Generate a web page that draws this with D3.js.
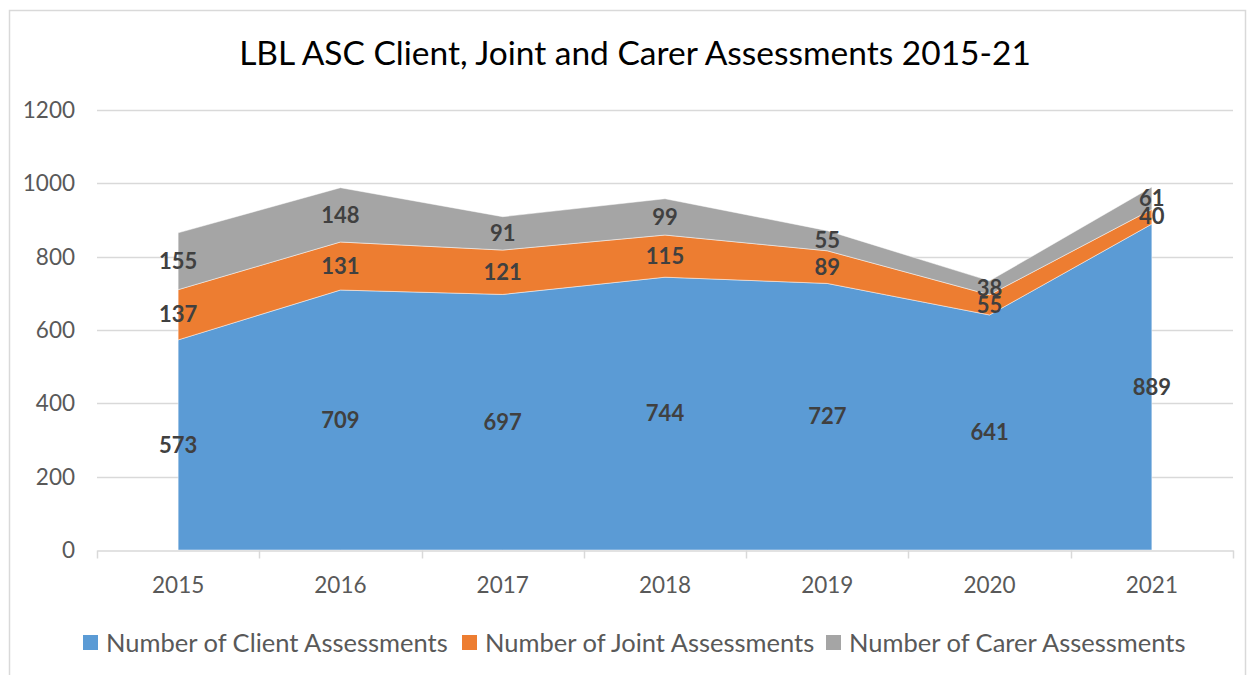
<!DOCTYPE html>
<html>
<head>
<meta charset="utf-8">
<script src="https://cdn.jsdelivr.net/npm/d3@7"></script>
<style>
  body { margin: 0; background: #fff; }
  svg text { font-family: Lato, "Open Sans", sans-serif; }
</style>
</head>
<body>
<div id="chart"></div>
<script>
// chart data
var years = ["2015", "2016", "2017", "2018", "2019", "2020", "2021"];
var clientValues = [573, 709, 697, 744, 727, 641, 889];
var jointValues = [137, 131, 121, 115, 89, 55, 40];
var carerValues = [155, 148, 91, 99, 55, 38, 61];
var yTicks = [0, 200, 400, 600, 800, 1000, 1200];
var seriesNames = ["Number of Client Assessments", "Number of Joint Assessments", "Number of Carer Assessments"];
var seriesColors = ["#5b9bd5", "#ed7d31", "#a5a5a5"];

var width = 1253;
var height = 675;

var plot = { left: 97, right: 1233, top: 110, bottom: 550 };

var svg = d3.select("#chart")
    .append("svg")
    .attr("width", width)
    .attr("height", height);

// chart frame
svg.append("rect")
    .attr("x", 9.5)
    .attr("y", 10.5)
    .attr("width", 1236)
    .attr("height", 680)
    .attr("fill", "#fff")
    .attr("stroke", "#d9d9d9")
    .attr("stroke-width", 1.5);

svg.append("text")
    .attr("x", 635)
    .attr("y", 65)
    .attr("text-anchor", "middle")
    .attr("font-size", 33.5)
    .attr("fill", "#000")
    .text("LBL ASC Client, Joint and Carer Assessments 2015-21");

var x_scale = d3.scaleBand()
    .domain(years)
    .range([plot.left, plot.right]);

var y_scale = d3.scaleLinear()
    .domain([0, 1200])
    .range([plot.bottom, plot.top]);

function xc(year) {
    return x_scale(year) + x_scale.bandwidth() / 2;
}

// gridlines
svg.append("g")
    .selectAll("line")
    .data(yTicks.filter(function(d) { return d > 0; }))
    .enter()
    .append("line")
    .attr("x1", plot.left)
    .attr("x2", plot.right)
    .attr("y1", function(d) { return Math.round(y_scale(d)) + 0.5; })
    .attr("y2", function(d) { return Math.round(y_scale(d)) + 0.5; })
    .attr("stroke", "#d9d9d9")
    .attr("stroke-width", 1.5);

// stacked data
var table = years.map(function(y, i) {
    return { year: y, client: clientValues[i], joint: jointValues[i], carer: carerValues[i] };
});
var keys = ["client", "joint", "carer"];
var stacked = d3.stack().keys(keys)(table);

var area = d3.area()
    .x(function(d) { return xc(d.data.year); })
    .y0(function(d) { return y_scale(d[0]); })
    .y1(function(d) { return y_scale(d[1]); });

svg.append("g")
    .selectAll("path")
    .data(stacked)
    .enter()
    .append("path")
    .attr("d", area)
    .attr("fill", function(d, i) { return seriesColors[i]; })
    .attr("stroke", "#ffffff")
    .attr("stroke-opacity", 0.6)
    .attr("stroke-width", 0.8);

// y axis labels
svg.append("g")
    .selectAll("text")
    .data(yTicks)
    .enter()
    .append("text")
    .attr("x", 75)
    .attr("y", function(d) { return y_scale(d); })
    .attr("dy", "0.35em")
    .attr("text-anchor", "end")
    .attr("font-size", 22.5)
    .attr("fill", "#595959")
    .text(function(d) { return d; });

// x axis
var x_axis = d3.axisBottom(x_scale)
    .tickValues([])
    .tickSizeOuter(0);
var xg = svg.append("g")
    .attr("transform", "translate(0," + (plot.bottom + 0.5) + ")")
    .call(x_axis);
xg.select(".domain").attr("stroke", "#d9d9d9").attr("stroke-width", 1.5);

var bounds = years.map(function(y) { return x_scale(y); }).concat([plot.right]);
xg.selectAll(".bnd")
    .data(bounds)
    .enter()
    .append("line")
    .attr("class", "bnd")
    .attr("x1", function(d) { return Math.round(d) + 0.5; })
    .attr("x2", function(d) { return Math.round(d) + 0.5; })
    .attr("y1", 0)
    .attr("y2", 8)
    .attr("stroke", "#d9d9d9")
    .attr("stroke-width", 1.5);

xg.selectAll(".lbl")
    .data(years)
    .enter()
    .append("text")
    .attr("class", "lbl")
    .attr("x", function(d) { return xc(d); })
    .attr("y", 35)
    .attr("dy", "0.35em")
    .attr("text-anchor", "middle")
    .attr("font-size", 22.5)
    .attr("fill", "#595959")
    .text(function(d) { return d; });

// data labels
stacked.forEach(function(layer) {
    svg.append("g")
        .selectAll("text")
        .data(layer)
        .enter()
        .append("text")
        .attr("x", function(d) { return xc(d.data.year); })
        .attr("y", function(d) { return y_scale((d[0] + d[1]) / 2); })
        .attr("dy", "0.35em")
        .attr("text-anchor", "middle")
        .attr("font-size", 22)
        .attr("font-weight", "bold")
        .attr("fill", "#404040")
        .text(function(d) { return d.data[layer.key]; });
});

// legend
var legendX = [83, 462, 826];
var legend = svg.append("g");
seriesNames.forEach(function(name, i) {
    legend.append("rect")
        .attr("x", legendX[i])
        .attr("y", 635)
        .attr("width", 15)
        .attr("height", 15)
        .attr("fill", seriesColors[i]);
    legend.append("text")
        .attr("x", legendX[i] + 23)
        .attr("y", 643)
        .attr("dy", "0.35em")
        .attr("font-size", 25.5)
        .attr("fill", "#595959")
        .text(name);
});
</script>
</body>
</html>
